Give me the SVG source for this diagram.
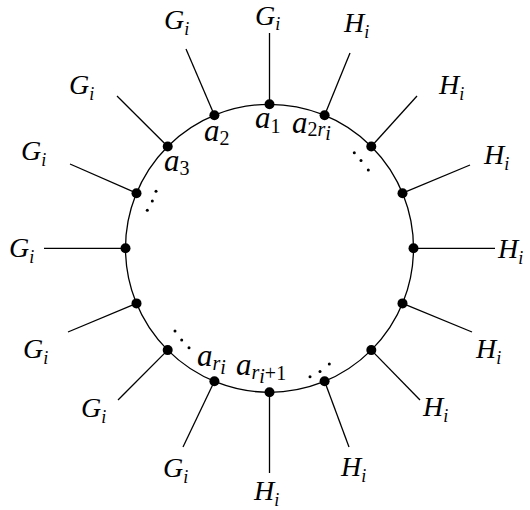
<svg xmlns="http://www.w3.org/2000/svg" width="530" height="510" viewBox="0 0 530 510">
<style>
.lbl{font-family:"Liberation Serif","DejaVu Serif",serif;font-style:italic;font-size:28px;fill:#000}
.sub{font-size:18px}
.nl{font-family:"Liberation Serif","DejaVu Serif",serif;font-style:italic;font-size:31px;fill:#000}
.ns{font-style:normal;font-size:20px}
.nsi{font-style:italic;font-size:20px}
.sp{stroke:#000;stroke-width:1.3;fill:none}
.nd{fill:#000}
.el{fill:#000}
</style>
<rect width="530" height="510" fill="#fff"/>
<circle cx="269.5" cy="248.3" r="144" fill="none" stroke="#000" stroke-width="1.3"/>
<g id="connectors">
<line class="sp" x1="269.5" y1="104.3" x2="269.5" y2="33"/>
<line class="sp" x1="324.6" y1="115.3" x2="350" y2="53"/>
<line class="sp" x1="371.3" y1="146.5" x2="417" y2="96"/>
<line class="sp" x1="402.5" y1="193.2" x2="470" y2="165"/>
<line class="sp" x1="413.5" y1="248.3" x2="495" y2="248.3"/>
<line class="sp" x1="402.5" y1="303.4" x2="472" y2="332"/>
<line class="sp" x1="371.3" y1="350.1" x2="420" y2="400"/>
<line class="sp" x1="324.6" y1="381.3" x2="349" y2="447"/>
<line class="sp" x1="269.5" y1="392.3" x2="269.5" y2="473"/>
<line class="sp" x1="214.4" y1="381.3" x2="183" y2="447"/>
<line class="sp" x1="167.7" y1="350.1" x2="118" y2="400"/>
<line class="sp" x1="136.5" y1="303.4" x2="68" y2="332"/>
<line class="sp" x1="125.5" y1="248.3" x2="44" y2="248.3"/>
<line class="sp" x1="136.5" y1="193.2" x2="70" y2="164"/>
<line class="sp" x1="167.7" y1="146.5" x2="117" y2="96"/>
<line class="sp" x1="214.4" y1="115.3" x2="186" y2="49"/>
</g>
<g id="n1"><circle class="nd" cx="269.5" cy="104.3" r="5"/><text class="nl" x="255" y="128">a<tspan class="ns" dy="5">1</tspan></text><text class="lbl" x="255" y="25">G<tspan class="sub" dy="5">i</tspan></text></g>
<g id="n2"><circle class="nd" cx="214.4" cy="115.3" r="5"/><text class="nl" x="204" y="141">a<tspan class="ns" dy="4">2</tspan></text><text class="lbl" x="164" y="29">G<tspan class="sub" dy="6">i</tspan></text></g>
<g id="n3"><circle class="nd" cx="167.7" cy="146.5" r="5"/><text class="nl" x="164" y="171">a<tspan class="ns" dy="4">3</tspan></text><text class="lbl" x="69" y="94">G<tspan class="sub" dy="6">i</tspan></text></g>
<g id="n4"><circle class="nd" cx="136.5" cy="193.2" r="5"/><text class="lbl" x="21" y="160">G<tspan class="sub" dy="6">i</tspan></text></g>
<g id="n5"><circle class="nd" cx="125.5" cy="248.3" r="5"/><text class="lbl" x="9" y="257">G<tspan class="sub" dy="6">i</tspan></text></g>
<g id="n6"><circle class="nd" cx="136.5" cy="303.4" r="5"/><text class="lbl" x="23" y="358">G<tspan class="sub" dy="6">i</tspan></text></g>
<g id="n7"><circle class="nd" cx="167.7" cy="350.1" r="5"/><text class="lbl" x="81" y="417">G<tspan class="sub" dy="6">i</tspan></text></g>
<g id="n8"><circle class="nd" cx="214.4" cy="381.3" r="5"/><text class="nl" x="197" y="366">a<tspan class="nsi" dy="4">r</tspan><tspan class="nsi" font-size="14" dy="4">i</tspan></text><text class="lbl" x="163" y="477">G<tspan class="sub" dy="6">i</tspan></text></g>
<g id="n9"><circle class="nd" cx="269.5" cy="392.3" r="5"/><text class="nl" x="236" y="375">a<tspan class="nsi" dy="4">r</tspan><tspan class="nsi" font-size="14" dy="4">i</tspan><tspan class="ns" dy="-3">+1</tspan></text><text class="lbl" x="254" y="500">H<tspan class="sub" dy="6">i</tspan></text></g>
<g id="n10"><circle class="nd" cx="324.6" cy="381.3" r="5"/><text class="lbl" x="341" y="476">H<tspan class="sub" dy="6">i</tspan></text></g>
<g id="n11"><circle class="nd" cx="371.3" cy="350.1" r="5"/><text class="lbl" x="423" y="416">H<tspan class="sub" dy="6">i</tspan></text></g>
<g id="n12"><circle class="nd" cx="402.5" cy="303.4" r="5"/><text class="lbl" x="476" y="358">H<tspan class="sub" dy="6">i</tspan></text></g>
<g id="n13"><circle class="nd" cx="413.5" cy="248.3" r="5"/><text class="lbl" x="498" y="258">H<tspan class="sub" dy="6">i</tspan></text></g>
<g id="n14"><circle class="nd" cx="402.5" cy="193.2" r="5"/><text class="lbl" x="484" y="164">H<tspan class="sub" dy="6">i</tspan></text></g>
<g id="n15"><circle class="nd" cx="371.3" cy="146.5" r="5"/><text class="lbl" x="439" y="94">H<tspan class="sub" dy="6">i</tspan></text></g>
<g id="n16"><circle class="nd" cx="324.6" cy="115.3" r="5"/><text class="nl" x="292" y="133">a<tspan class="ns" dy="3">2</tspan><tspan class="nsi" dy="0">r</tspan><tspan class="nsi" font-size="14" dy="4">i</tspan></text><text class="lbl" x="344" y="32">H<tspan class="sub" dy="6">i</tspan></text></g>
<g id="ellipses">
<circle class="el" cx="354.3" cy="152.7" r="1.5"/><circle class="el" cx="361" cy="160.5" r="1.5"/><circle class="el" cx="368.3" cy="170" r="1.5"/>
<circle class="el" cx="156" cy="191.3" r="1.5"/><circle class="el" cx="152.3" cy="201" r="1.5"/><circle class="el" cx="147.3" cy="210.3" r="1.5"/>
<circle class="el" cx="175" cy="331" r="1.5"/><circle class="el" cx="181.7" cy="340" r="1.5"/><circle class="el" cx="189" cy="347.7" r="1.5"/>
<circle class="el" cx="310" cy="376.7" r="1.5"/><circle class="el" cx="320" cy="371.5" r="1.5"/><circle class="el" cx="329.3" cy="364" r="1.5"/>
</g>
</svg>
